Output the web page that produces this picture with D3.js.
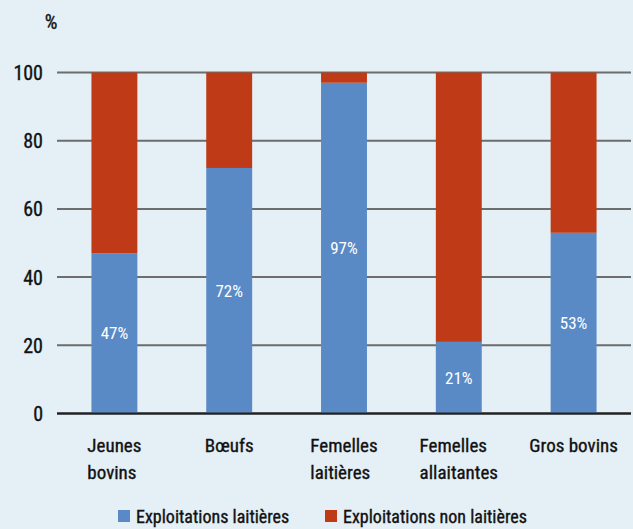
<!DOCTYPE html>
<html><head><meta charset="utf-8">
<script src="https://cdn.jsdelivr.net/npm/d3@7"></script>
<style>
html,body{margin:0;padding:0;background:#e4eff6;}
svg{display:block;}
text{font-family:"Liberation Sans Narrow","Roboto Condensed","DejaVu Sans Condensed",sans-serif;fill:#111;}
text.dark{stroke:#111;stroke-width:0.35px;}
</style></head>
<body>
<svg id="c" width="633" height="529"></svg>
<script>
const categories = [["Jeunes","bovins"],["Bœufs"],["Femelles","laitières"],["Femelles","allaitantes"],["Gros bovins"]];
const laitieres = [47, 72, 97, 21, 53];
const nonLaitieres = [53, 28, 3, 79, 47];
const yTicks = [0, 20, 40, 60, 80, 100];
const seriesNames = ["Exploitations laitières", "Exploitations non laitières"];
const colors = ["#5a8ac6", "#bf3a17"];

const svg = d3.select("#c");
const keys = categories.map((c,i)=>i);
const x = d3.scaleBand().domain(keys).range([57, 631]).paddingInner(0.6).paddingOuter(0.3);
const y = d3.scaleLinear().domain([0,100]).range([413.5, 72.5]);

// gridlines
svg.append("g").selectAll("line").data(yTicks).join("line")
  .attr("x1",57).attr("x2",631)
  .attr("y1",d=>y(d)).attr("y2",d=>y(d))
  .attr("stroke",d=>d===0?"#222":"#6d6d6d").attr("stroke-width",2);

// stacked bars
const data = keys.map(i=>({i, a:laitieres[i], b:nonLaitieres[i]}));
const stack = d3.stack().keys(["a","b"])(data);
svg.append("g").selectAll("g").data(stack).join("g")
  .attr("fill",(d,k)=>colors[k])
  .selectAll("rect").data(d=>d).join("rect")
  .attr("x",d=>x(d.data.i)).attr("width",x.bandwidth())
  .attr("y",d=>y(d[1])).attr("height",d=>y(d[0])-y(d[1]));

// redraw baseline on top
svg.append("line").attr("x1",57).attr("x2",631).attr("y1",y(0)).attr("y2",y(0))
  .attr("stroke","#222").attr("stroke-width",2);

// value labels
svg.append("g").selectAll("text").data(data).join("text")
  .attr("x",d=>x(d.i)+x.bandwidth()/2)
  .attr("y",d=>(y(0)+y(d.a))/2)
  .attr("dy","0.35em").attr("text-anchor","middle")
  .style("fill","#fff").style("font-size","17px")
  .text(d=>d.a+"%");

// y axis labels
const yAxis = d3.axisLeft(y).tickValues(yTicks).tickSize(0).tickPadding(0);
const ya = svg.append("g").attr("transform","translate(43,0)").call(yAxis);
ya.select(".domain").remove();
ya.selectAll("text").attr("class","dark").style("font-size","20px").style("font-family",null).attr("fill",null).attr("dy","0.35em");

svg.append("text").attr("class","dark").attr("x",51).attr("y",22).attr("dy","0.35em").attr("text-anchor","middle")
  .style("font-size","20px").text("%");

// category labels
const cg = svg.append("g");
categories.forEach((lines,i)=>{
  const g = cg.append("g");
  const t = g.append("text").attr("class","dark").style("font-size","19px");
  lines.forEach((l,j)=>{
    t.append("tspan").attr("x",0).attr("y",445+j*27).attr("dy","0.35em").text(l);
  });
  let w = 0;
  t.selectAll("tspan").each(function(){ w = Math.max(w,this.getComputedTextLength()); });
  g.attr("transform",`translate(${x(i)+x.bandwidth()/2-w/2},0)`);
});

// legend
const leg = [{x:118},{x:325}];
seriesNames.forEach((n,k)=>{
  svg.append("rect").attr("x",leg[k].x).attr("y",510).attr("width",12).attr("height",12).attr("fill",colors[k]);
  svg.append("text").attr("class","dark").attr("x",leg[k].x+18).attr("y",517).attr("dy","0.35em").style("font-size","18px").text(n);
});
</script>
</body></html>
